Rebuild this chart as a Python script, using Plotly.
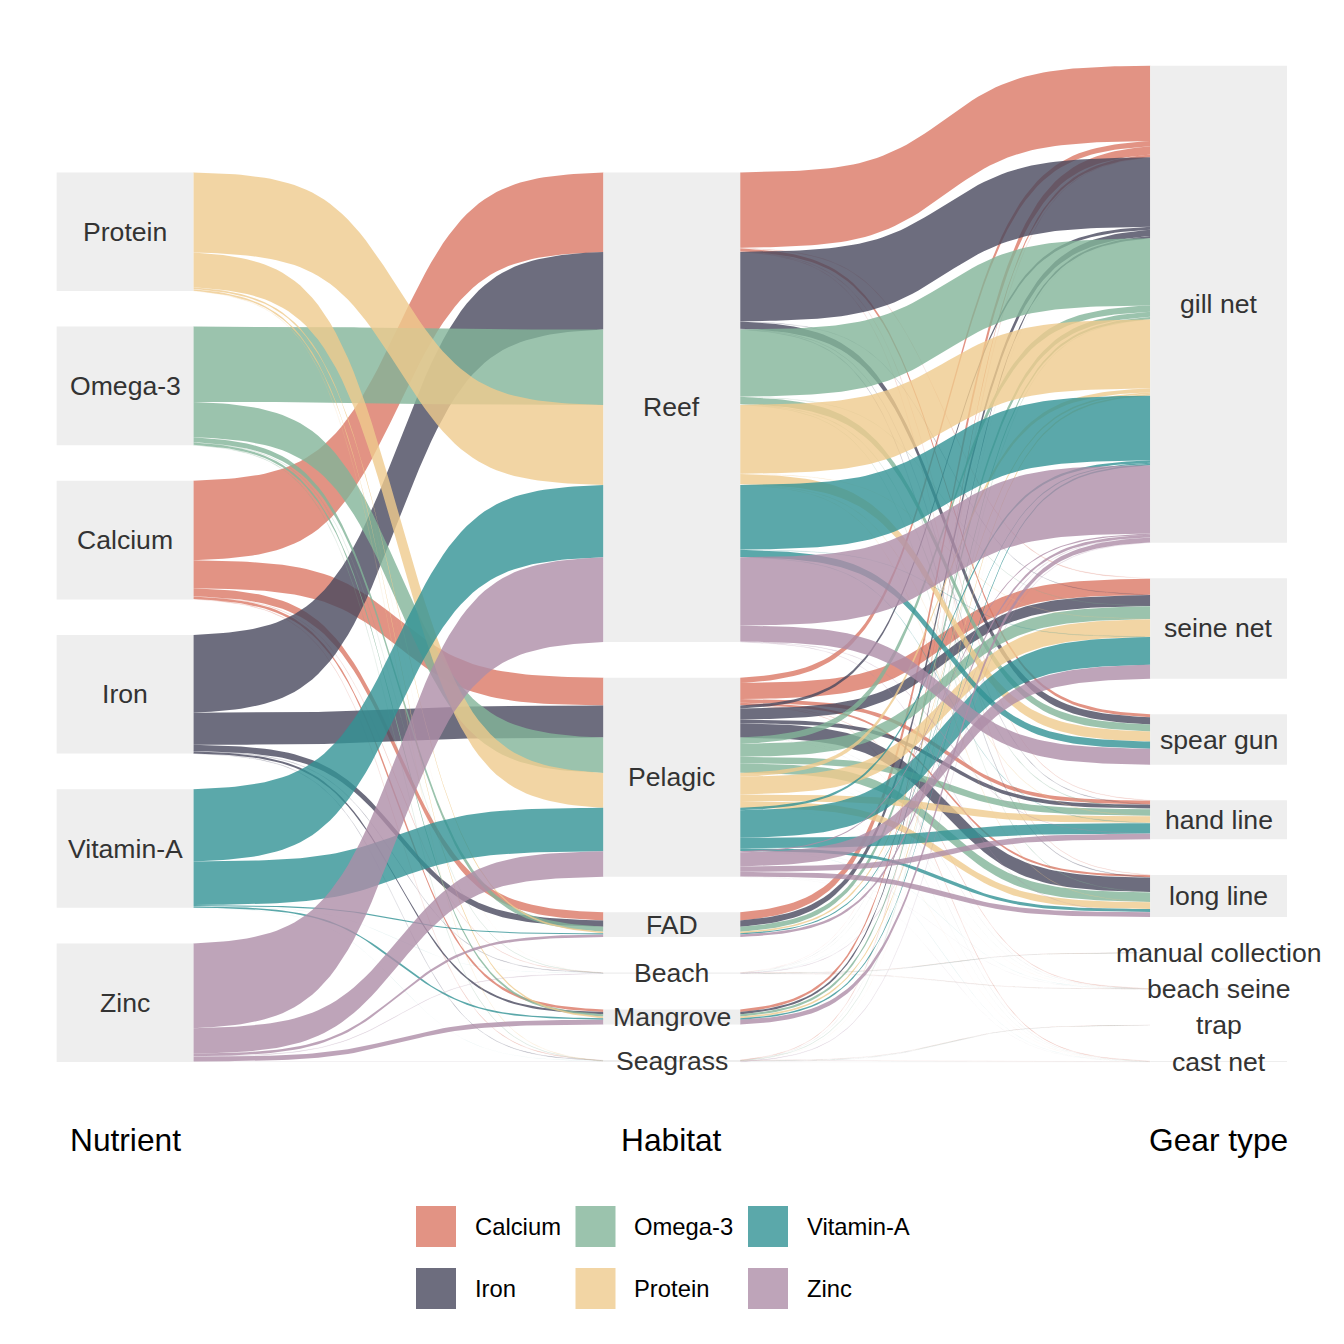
import numpy as np
import plotly.graph_objects as go

# ---------------- data ----------------
NUTRIENT_NODES = ["Protein", "Omega-3", "Calcium", "Iron", "Vitamin-A", "Zinc"]   # left column, top -> bottom
NUTRIENTS = ["Calcium", "Iron", "Omega-3", "Protein", "Vitamin-A", "Zinc"]        # fill order
HABITATS = ["Reef", "Pelagic", "FAD", "Beach", "Mangrove", "Seagrass"]
GEARS = ["gill net", "seine net", "spear gun", "hand line", "long line",
         "manual collection", "beach seine", "trap", "cast net"]
AXIS_LABELS = ["Nutrient", "Habitat", "Gear type"]

PAIR_HABITAT = ["Reef", "Reef", "Reef", "Reef", "Reef",
                "Pelagic", "Pelagic", "Pelagic", "Pelagic", "Pelagic", "Pelagic",
                "FAD", "Beach", "Beach", "Beach", "Mangrove",
                "Seagrass", "Seagrass", "Seagrass"]
PAIR_GEAR = ["gill net", "seine net", "spear gun", "hand line", "long line",
             "gill net", "seine net", "hand line", "long line", "beach seine", "cast net",
             "gill net", "gill net", "manual collection", "beach seine", "gill net",
             "gill net", "trap", "cast net"]

CALCIUM   = [63.5, 0.5, 2.5, 0.3, 0.2, 4.5, 13.5, 3.2, 1.8, 0.25, 0.25, 6.8, 0.1, 0.05, 0.05, 2.2, 0.2, 0.05, 0.05]
IRON      = [58.5, 0.2, 6.0, 0.3, 0.5, 2.5, 9.2, 3.2, 12.0, 0.05, 0.05, 5.3, 0.1, 0.05, 0.05, 1.8, 0.1, 0.05, 0.05]
OMEGA3    = [56.5, 0.2, 6.0, 0.5, 0.3, 5.4, 10.8, 5.5, 8.0, 0.05, 0.05, 4.2, 0.1, 0.05, 0.05, 2.0, 0.2, 0.05, 0.05]
PROTEIN   = [58.0, 0.2, 8.5, 0.5, 0.3, 3.3, 14.8, 5.5, 5.7, 0.05, 0.05, 1.4, 0.0, 0.05, 0.05, 1.4, 0.1, 0.05, 0.05]
VITAMIN_A = [54.5, 0.2, 6.0, 0.3, 0.0, 2.0, 23.3, 8.7, 2.5, 0.05, 0.05, 0.9, 0.05, 0.05, 0.0, 1.3, 0.0, 0.05, 0.05]
ZINC      = [57.5, 0.0, 13.5, 0.3, 0.2, 1.0, 11.8, 4.6, 4.0, 0.05, 0.05, 2.2, 0.2, 0.05, 0.05, 4.0, 0.3, 0.1, 0.1]

VALUES = {"Calcium": CALCIUM, "Iron": IRON, "Omega-3": OMEGA3,
          "Protein": PROTEIN, "Vitamin-A": VITAMIN_A, "Zinc": ZINC}
COLORS = {"Calcium": (219, 120, 101), "Iron": (72, 72, 94), "Omega-3": (130, 180, 152),
          "Protein": (239, 203, 141), "Vitamin-A": (50, 146, 149), "Zinc": (174, 141, 168)}
ALPHA = 0.8

# ---------------- layout constants ----------------
GAP = 30.0
W = 0.25
K = 1.1861                      # pixels per value unit
OFF = 8.0                       # page body margin offset
Y_BOTTOM_PX = 1062.0 - OFF
X1_PX = 125.0 - OFF
SIZE = 1344


def rgba(c, a):
    return "rgba(%d,%d,%d,%.3f)" % (c[0], c[1], c[2], a)


def node_positions(names, totals):
    total = sum(totals[n] for n in names) + GAP * (len(names) - 1)
    pos, y = {}, total
    for n in names:
        pos[n] = (y, y - totals[n])
        y -= totals[n] + GAP
    return pos


# totals
left_tot = {n: sum(VALUES[n]) for n in NUTRIENT_NODES}
mid_tot = {h: 0.0 for h in HABITATS}
right_tot = {g: 0.0 for g in GEARS}
nh = {}     # (nutrient, habitat) -> value
nhg = {}    # (nutrient, habitat, gear) -> value
for n in NUTRIENTS:
    for h, g, v in zip(PAIR_HABITAT, PAIR_GEAR, VALUES[n]):
        mid_tot[h] += v
        right_tot[g] += v
        nh[(n, h)] = nh.get((n, h), 0.0) + v
        nhg[(n, h, g)] = v

left_pos = node_positions(NUTRIENT_NODES, left_tot)
mid_pos = node_positions(HABITATS, mid_tot)
right_pos = node_positions(GEARS, right_tot)

# segments
left_out, mid_in, mid_out, right_in = {}, {}, {}, {}
for n in NUTRIENT_NODES:
    cur = left_pos[n][0]
    for h in HABITATS:
        v = nh.get((n, h), 0.0)
        left_out[(n, h)] = (cur, cur - v)
        cur -= v
for h in HABITATS:
    cur = mid_pos[h][0]
    for n in NUTRIENTS:
        v = nh.get((n, h), 0.0)
        mid_in[(n, h)] = (cur, cur - v)
        cur -= v
    cur = mid_pos[h][0]
    for n in NUTRIENTS:
        for g in GEARS:
            v = nhg.get((n, h, g), 0.0)
            mid_out[(n, h, g)] = (cur, cur - v)
            cur -= v
for g in GEARS:
    cur = right_pos[g][0]
    for n in NUTRIENTS:
        for h in HABITATS:
            v = nhg.get((n, h, g), 0.0)
            right_in[(n, h, g)] = (cur, cur - v)
            cur -= v

T = np.linspace(0, 1, 70)
S = 5.5


def ease(t):
    L = lambda z: 1.0 / (1.0 + np.exp(-z))
    return (L(S * (2 * t - 1)) - L(-S)) / (L(S) - L(-S))


E = ease(T)


def ribbon(x0, x1, a, b):
    xs = x0 + (x1 - x0) * T
    top = a[0] + (b[0] - a[0]) * E
    bot = a[1] + (b[1] - a[1]) * E
    X = np.concatenate([xs, xs[::-1], xs[:1]])
    Y = np.concatenate([top, bot[::-1], top[:1]])
    return X, Y


fig = go.Figure()


def add_flow(X, Y, n, v):
    if v < 0.15:
        fa = 0.12
        line = dict(width=0.4, color=rgba(COLORS[n], 0.04))
    elif v < 0.6:
        fa = 0.35
        line = dict(width=0.5, color=rgba(COLORS[n], 0.15))
    else:
        fa = ALPHA
        line = dict(width=0)
    fig.add_trace(go.Scatter(x=X, y=Y, mode="lines", fill="toself",
                             fillcolor=rgba(COLORS[n], fa), line=line,
                             hoverinfo="skip", showlegend=False))


for n in NUTRIENTS:
    for h in HABITATS:
        v = nh.get((n, h), 0.0)
        if v <= 0:
            continue
        X, Y = ribbon(1 + W / 2, 2 - W / 2, left_out[(n, h)], mid_in[(n, h)])
        add_flow(X, Y, n, v)
for n in NUTRIENTS:
    for h in HABITATS:
        for g in GEARS:
            v = nhg.get((n, h, g), 0.0)
            if v <= 0:
                continue
            X, Y = ribbon(2 + W / 2, 3 - W / 2, mid_out[(n, h, g)], right_in[(n, h, g)])
            add_flow(X, Y, n, v)

shapes, annotations = [], []
for xc, pos in ((1, left_pos), (2, mid_pos), (3, right_pos)):
    for name, (top, bot) in pos.items():
        if top - bot > 0.5:
            shapes.append(dict(type="rect", xref="x", yref="y", x0=xc - W / 2, x1=xc + W / 2,
                               y0=bot, y1=top, fillcolor="#EEEEEE", line=dict(width=0),
                               layer="above"))
        annotations.append(dict(x=xc, y=(top + bot) / 2, xref="x", yref="y", text=name,
                                showarrow=False, xanchor="center", yanchor="middle",
                                font=dict(size=26.6, color="#333333")))

for i, lab in enumerate(AXIS_LABELS):
    annotations.append(dict(x=i + 1, y=(Y_BOTTOM_PX - (1140 - OFF)) / K, xref="x", yref="y",
                            text=lab, showarrow=False, xanchor="center", yanchor="middle",
                            font=dict(size=31.7, color="#000000")))

# legend (3 columns x 2 rows, filled column-wise)
leg_key_x = [416 - OFF, 575.5 - OFF, 748 - OFF]
leg_txt_x = [473 - OFF, 632 - OFF, 805 - OFF]
leg_row_y = [(1206 - OFF, 1247 - OFF), (1268 - OFF, 1309 - OFF)]
for i, n in enumerate(NUTRIENTS):
    col, row = i // 2, i % 2
    y0, y1 = leg_row_y[row]
    shapes.append(dict(type="rect", xref="paper", yref="paper",
                       x0=leg_key_x[col] / SIZE, x1=(leg_key_x[col] + 40) / SIZE,
                       y0=1 - y1 / SIZE, y1=1 - y0 / SIZE,
                       fillcolor=rgba(COLORS[n], ALPHA), line=dict(width=0), layer="above"))
    annotations.append(dict(x=leg_txt_x[col] / SIZE, y=1 - ((y0 + y1) / 2) / SIZE,
                            xref="paper", yref="paper", text=n, showarrow=False,
                            xanchor="left", yanchor="middle",
                            font=dict(size=23.8, color="#000000")))

x_lo = 1 - X1_PX / 546.8
x_hi = 1 + (SIZE - X1_PX) / 546.8
fig.update_layout(
    width=SIZE, height=SIZE,
    margin=dict(l=0, r=0, t=0, b=0),
    paper_bgcolor="white", plot_bgcolor="white",
    font=dict(family="Liberation Sans, Arial, sans-serif"),
    xaxis=dict(visible=False, range=[x_lo, x_hi], fixedrange=True),
    yaxis=dict(visible=False, range=[(Y_BOTTOM_PX - SIZE) / K, Y_BOTTOM_PX / K], fixedrange=True),
    shapes=shapes, annotations=annotations, showlegend=False,
)
fig.write_html("out.html")
